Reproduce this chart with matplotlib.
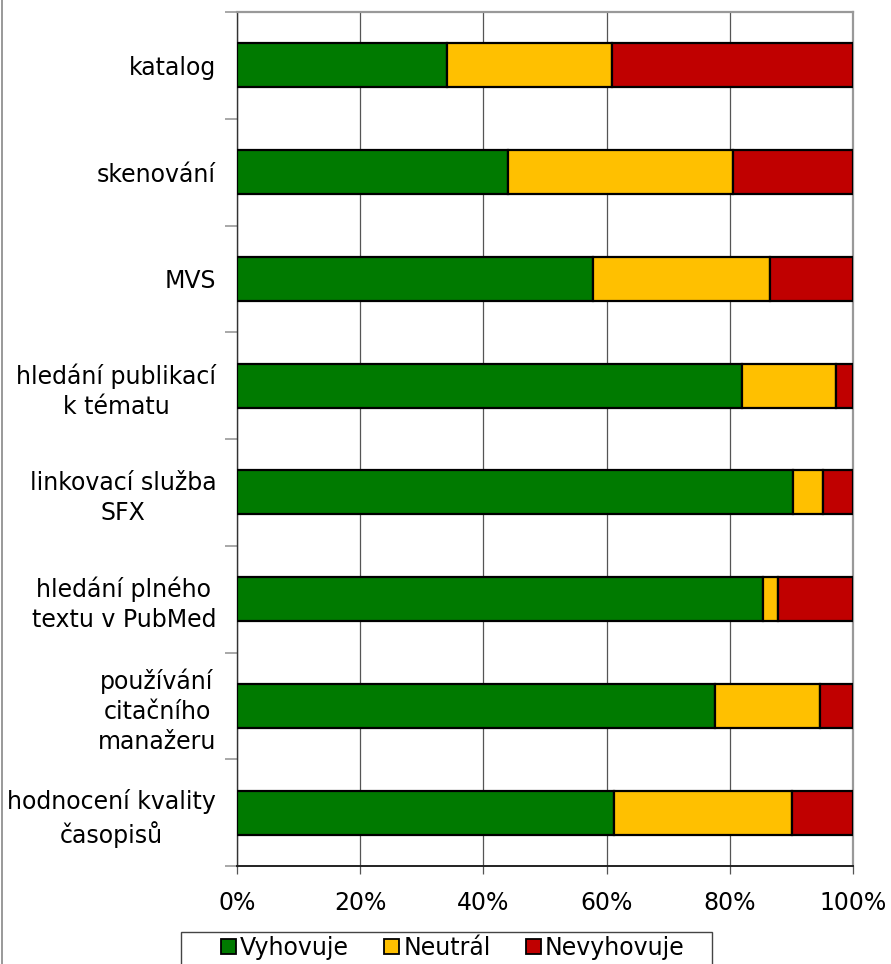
import matplotlib
matplotlib.use("Agg")
import matplotlib.pyplot as plt
from matplotlib.lines import Line2D
from matplotlib.patches import Rectangle
import numpy as np

categories = ["katalog", "skenování", "MVS", "hledání publikací\nk tématu",
              "linkovací služba\nSFX", "hledání plného\ntextu v PubMed",
              "používání\ncitačního\nmanažeru", "hodnocení kvality\nčasopisů"]
vyhovuje = [34.1, 44.0, 57.8, 82.0, 90.3, 85.4, 77.6, 61.2]
neutral = [26.8, 36.5, 28.7, 15.3, 4.8, 2.4, 17.0, 28.9]
nevyhovuje = [39.1, 19.5, 13.5, 2.7, 4.9, 12.2, 5.4, 9.9]
series_names = ["Vyhovuje", "Neutrál", "Nevyhovuje"]
colors = ["#007A00", "#FFC000", "#C00000"]
xticks = [0, 20, 40, 60, 80, 100]

FS = 17
plt.rcParams['font.family'] = ['DejaVu Sans']
fig = plt.figure(figsize=(8.91, 9.64), dpi=100)
ax = fig.add_axes([237/891, 98/964, 616/891, 854/964])

y = np.arange(len(categories))
left = np.zeros(len(categories))
for vals, name, c in zip([vyhovuje, neutral, nevyhovuje], series_names, colors):
    ax.barh(y, vals, left=left, height=0.41, color=c, edgecolor="black",
            linewidth=1.6, label=name, zorder=3)
    left = left + np.array(vals)

ax.set_xlim(0, 100)
ax.set_ylim(len(categories) - 0.5, -0.5)
ax.set_xticks(xticks)
ax.set_xticklabels([f"{v}%" for v in xticks], fontsize=FS)
ax.xaxis.grid(True, color="#555555", linewidth=0.9, zorder=0)
ax.tick_params(axis="x", length=6, width=0.9, color="#555555", pad=12)

ax.set_yticks(np.arange(len(categories) + 1) - 0.5)
ax.set_yticklabels([])
ax.tick_params(axis="y", which="major", length=9, width=1.2, color="#999999")
ax.set_yticks(y, minor=True)
ax.set_yticklabels(categories, minor=True, fontsize=FS)
ax.tick_params(axis="y", which="minor", length=0, pad=15)
for lab in ax.get_yticklabels(minor=True):
    lab.set_multialignment("center")
    lab.set_linespacing(1.3)

for s in ["top", "right"]:
    ax.spines[s].set_color("#999999")
    ax.spines[s].set_linewidth(1.6)
ax.spines["left"].set_color("#333333")
ax.spines["left"].set_linewidth(1.0)
ax.spines["bottom"].set_color("#222222")
ax.spines["bottom"].set_linewidth(1.4)

leg = fig.legend(loc="center", bbox_to_anchor=(453/891, 16/964), ncol=3,
                 fontsize=FS, frameon=False,
                 handlelength=0.62, handleheight=0.62, handletextpad=0.18,
                 columnspacing=1.5, borderpad=0, borderaxespad=0)
for h in leg.legend_handles:
    h.set_linewidth(1.3)
    h.set_edgecolor("black")

fig.add_artist(Rectangle((181/891, -0.02), (712-181)/891, (964-932)/964 + 0.02,
                         transform=fig.transFigure, fill=False,
                         edgecolor="#444444", linewidth=1.0))
fig.add_artist(Line2D([2/891, 2/891], [0, 1], transform=fig.transFigure,
                      color="#888888", linewidth=1.2))

fig.savefig("out.png", dpi=100)
